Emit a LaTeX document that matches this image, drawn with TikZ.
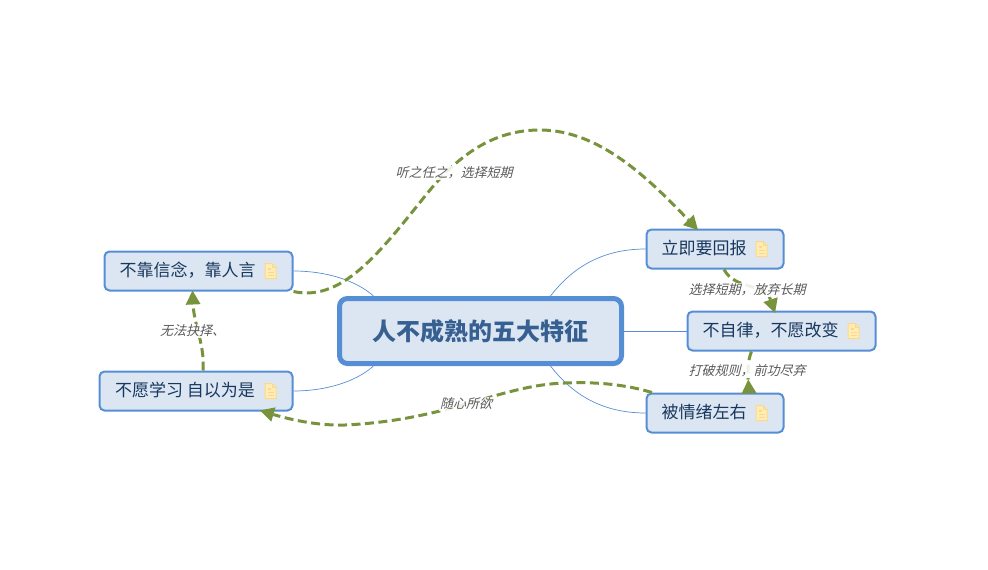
\documentclass[tikz,border=0pt]{standalone}
\usepackage{fontspec}
\setmainfont{Noto Sans CJK SC}
\newfontfamily\slantcjk[FakeSlant=0.25]{Noto Sans CJK SC}
\usetikzlibrary{arrows.meta,calc}
\definecolor{boxfill}{HTML}{DCE6F2}
\definecolor{boxline}{HTML}{558ED5}
\definecolor{boxtext}{HTML}{17375E}
\definecolor{roottext}{HTML}{376092}
\definecolor{linkgreen}{HTML}{77933C}
\definecolor{labelgrey}{HTML}{595959}
\definecolor{notefill}{HTML}{FFEDB5}
\definecolor{noteline}{HTML}{FCD98A}
\newcommand{\withnote}[1]{#1\hspace{10pt}\hbox to 12pt{\hfil}}
\tikzset{
  topicbox/.style={draw=boxline,fill=boxfill,line width=2pt,rounded corners=5pt,inner sep=0pt,
    minimum height=39pt,font=\fontsize{17pt}{20pt}\selectfont,text=boxtext,text height=14pt,text depth=3pt},
  rootbox/.style={draw=boxline,fill=boxfill,line width=5pt,rounded corners=8pt,inner sep=0pt,
    minimum width=282pt,minimum height=65pt,font=\bfseries\fontsize{24pt}{28pt}\selectfont,text=roottext},
  branch/.style={draw=boxline,line width=0.7pt},
  relation/.style={draw=linkgreen,line width=3pt,dash pattern=on 9pt off 4.5pt},
  relationtip/.style={relation,-{Triangle[length=14pt,width=15pt,fill=linkgreen,line width=0pt]}},
  relationbase/.style={relation,-{Triangle[reversed,length=14pt,width=15pt,fill=linkgreen,line width=0pt]}},
  linklabel/.style={fill=white,fill opacity=0.88,text opacity=1,inner sep=1pt,text=labelgrey,
    font=\slantcjk\fontsize{13pt}{15pt}\selectfont},
  notemark/.pic={
    \path[fill=notefill,draw=noteline,line width=1pt] (-5.5,-7.5) -- (1.5,-7.5) -- (5.5,-3.5) -- (5.5,7.5) -- (-5.5,7.5) -- cycle;
    \path[draw=noteline,line width=1pt] (1.5,-7.5) -- (1.5,-3.5) -- (5.5,-3.5);
    \path[draw=noteline,line width=1.4pt] (-3,-2) -- (0,-2) (-3,1.5) -- (3.2,1.5) (-3,4.5) -- (3.2,4.5);
  }
}
\begin{document}
\begin{tikzpicture}[x=1pt,y=-1pt]
\useasboundingbox (0,0) rectangle (988,570);
\node[rootbox] (root) at (480.5,331) {人不成熟的五大特征};
\node[topicbox,minimum width=137pt] (n1) at (715,249) {\withnote{立即要回报}};
\node[topicbox,minimum width=188pt] (n2) at (781.5,331) {\withnote{不自律，不愿改变}};
\node[topicbox,minimum width=137pt] (n3) at (715,413) {\withnote{被情绪左右}};
\node[topicbox,minimum width=188pt] (n4) at (198.5,271) {\withnote{不靠信念，靠人言}};
\node[topicbox,minimum width=193pt] (n5) at (196,391) {\withnote{不愿学习 自以为是}};
\foreach \n in {n1,n2,n3,n4,n5} \path (\n.east) ++(-23,0) pic {notemark};
% branches
\coordinate (rNW) at ($(root.north)+(-107,0)$);
\coordinate (rSW) at ($(root.south)+(-107,0)$);
\coordinate (rNE) at ($(root.north)+(70,0)$);
\coordinate (rSE) at ($(root.south)+(70,0)$);
\path[branch] (n4.east) .. controls +(32,0) and +(-18,-16) .. (rNW);
\path[branch] (n5.east) .. controls +(32,0) and +(-18,16) .. (rSW);
\path[branch] (n1.west) .. controls +(-46,0) and +(20,-26) .. (rNE);
\path[branch] (n3.west) .. controls +(-46,0) and +(20,26) .. (rSE);
\path[branch] (root.east) -- (n2.west);
% relations
\coordinate (s4) at ($(n4.south east)+(0,0)$);
\coordinate (e1) at ($(n1.north)+(-17,1.5)$);
\coordinate (s1) at ($(n1.south)+(9,0)$);
\coordinate (e2) at ($(n2.north)+(-6.5,2.5)$);
\coordinate (s2) at ($(n2.south)+(-30,0)$);
\coordinate (e3) at ($(n3.north)+(34,1)$);
\coordinate (s5) at ($(n5.north)+(7,0)$);
\coordinate (e4) at ($(n4.south)+(-6,-1)$);
\coordinate (s3) at ($(n3.north)+(-63,0)$);
\coordinate (e5) at ($(n5.south)+(64,-1)$);
\path[relationtip] (s4) .. controls (345,303) and (385,245) .. (430,190)
  .. controls (465,148) and (500,130) .. (540,130)
  .. controls (600,130) and (650,180) .. (e1);
\path[relationtip] (s1) .. controls (735,290) and (765,283) .. (e2);
\path[relationbase] (s2) .. controls (747,362) and (748,375) .. (e3);
\path[relationtip] (s5) .. controls (205,345) and (194,325) .. (e4);
\path[relationtip] (s3) .. controls (620,383) and (590,382) .. (565,383)
  .. controls (500,385) and (450,420) .. (345,425)
  .. controls (315,426) and (285,418) .. (e5);
% labels
\node[linklabel] (l1) at (454,173) {听之任之，选择短期};
\node[linklabel] (l2) at (747,290) {选择短期，放弃长期};
\node[linklabel] (l3) at (747,371) {打破规则，前功尽弃};
\node[linklabel] (l4) at (192.5,331) {无法抉择、};
\node[linklabel] (l5) at (466,404) {随心所欲};
\end{tikzpicture}
\end{document}
